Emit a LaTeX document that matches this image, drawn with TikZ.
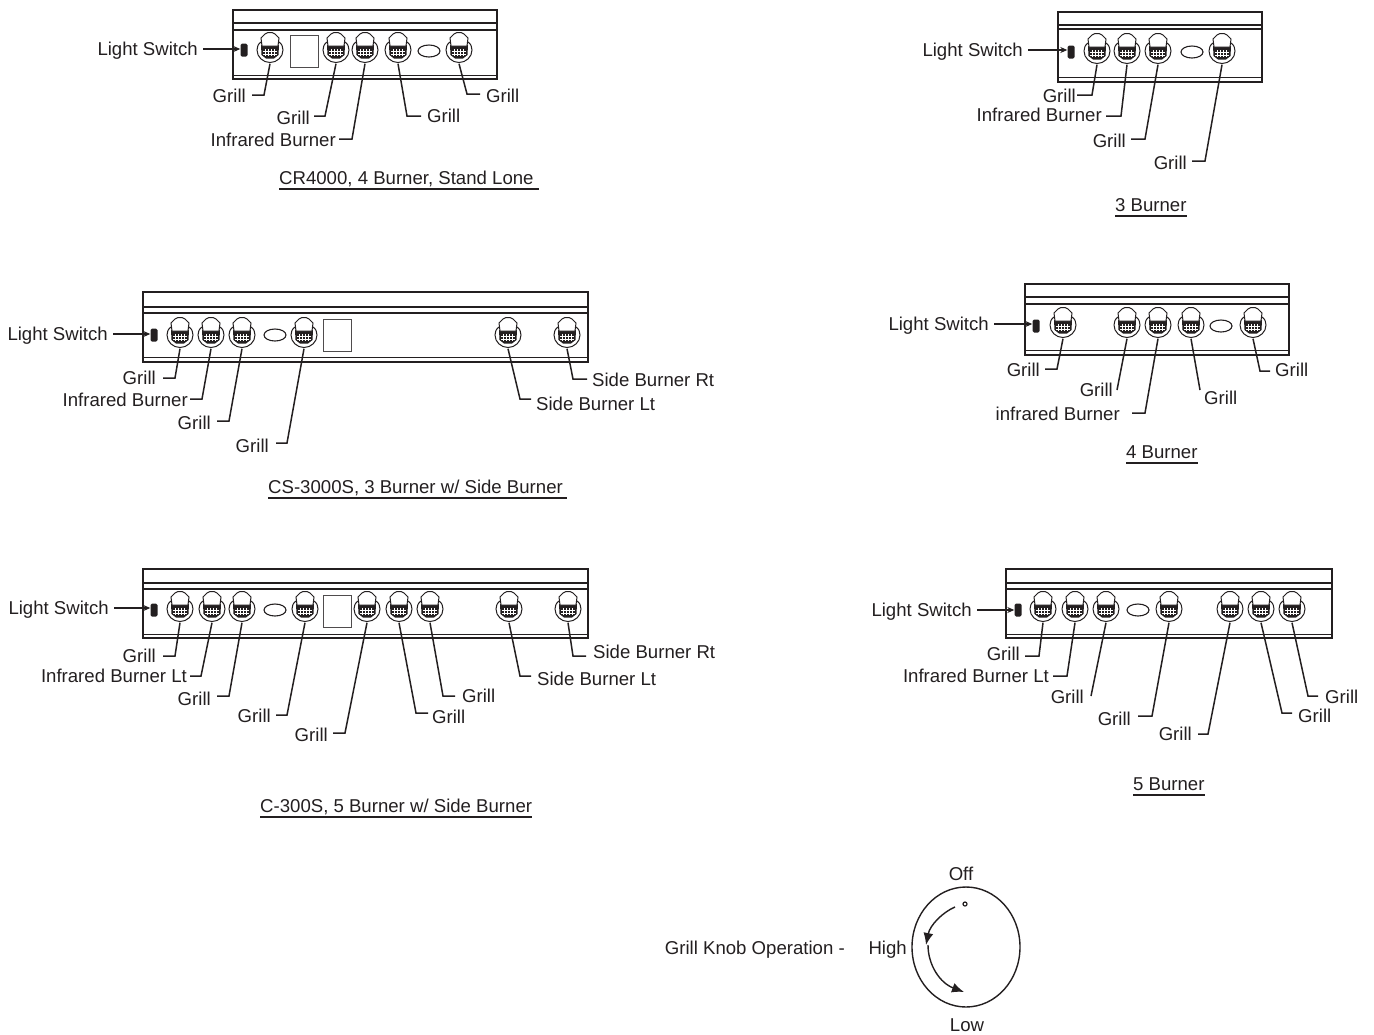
\documentclass[tikz,border=0pt]{standalone}
\usepackage{fontspec}
\setmainfont{Liberation Sans}
\usetikzlibrary{shapes.geometric, arrows.meta}
\definecolor{inkc}{HTML}{231F20}
\tikzstyle{lbl} = [inner sep=0pt, text height=13.5pt, text depth=0pt, font=\fontsize{18.6}{20}\selectfont, text=inkc]
\tikzstyle{lbll} = [lbl, anchor=east]
\tikzstyle{lblr} = [lbl, anchor=west]
\tikzstyle{capt} = [lbl, anchor=south west, text depth=4.5pt]
\tikzstyle{knobbase} = [circle, inner sep=0pt, minimum size=31pt]
\tikzstyle{leader} = [draw=inkc, line width=1.5pt, shorten >=6pt]
\tikzstyle{swarrow} = [draw=inkc, line width=1.5pt, shorten <=5pt, -{Stealth[length=7pt,width=6pt]}]
\tikzstyle{switchbox} = [rectangle, rounded corners=1.5pt, minimum width=7pt, minimum height=13pt, inner sep=0pt, fill=inkc]
\tikzstyle{ovalbox} = [ellipse, minimum width=22pt, minimum height=12pt, inner sep=0pt, draw=inkc, line width=1.1pt]
\tikzstyle{gaugebox} = [rectangle, minimum width=28pt, minimum height=32pt, inner sep=0pt, draw=inkc!80, line width=0.8pt]
\tikzstyle{rulel} = [draw=inkc, line width=1.4pt]
% front panel: x1 x2, then the five rails
\newcommand{\facia}[7]{
\draw [inkc, line width=1.7pt] (#1,#3) rectangle (#2,#7);
\draw [inkc, line width=1.7pt] (#1,#4) -- (#2,#4);
\draw [inkc, line width=1.7pt] (#1,#5) -- (#2,#5);
\draw [inkc, line width=0.8pt] (#1,#6) -- (#2,#6);
}
% one knob, named so that leaders can start from it
\newcommand{\knob}[3]{
\node (#1) [knobbase] at (#2,#3) {};
\begin{scope}[shift={(#2,#3)}, inkc, line width=1pt]
\draw [fill=white] (-9,-6) .. controls (-12,-4) and (-13,-1) .. (-13,2) .. controls (-13,9) and (-7,14.5) .. (0,14.5) .. controls (7,14.5) and (13,9) .. (13,2) .. controls (13,-1) and (12,-4) .. (9,-6);
\fill [inkc] (-9,-3) -- (9,-3) -- (8.5,7) -- (4,10.5) -- (-4,10.5) -- (-8.5,7) -- cycle;
\foreach \hx in {-5,-2,1,4} {\draw [white, line width=0.3pt] (\hx,1) -- (\hx,8);}
\foreach \hy in {3,6} {\draw [white, line width=0.3pt] (-7,\hy) -- (7,\hy);}
\draw [fill=white] (-8,-2) -- (-9,-10) -- (-5,-14) -- (-2,-15.5) -- (2,-15.5) -- (5,-14) -- (9,-10) -- (8,-2) -- cycle;
\end{scope}
}
\newcommand{\leader}[4][]{
\coordinate (bend) at (#3);
\draw [leader, #1] (#2.south) -- (bend) -- (bend -| #4);
}
\begin{document}
\begin{tikzpicture}[x=1pt, y=-1pt]
\useasboundingbox (0,0) rectangle (1374,1034);

% CR4000
\facia{233}{497}{10}{23}{30}{75}{79}
\node (sw1) [switchbox] at (244,50) {};
\knob{k11}{270}{48}
\knob{k12}{336}{48}
\knob{k13}{365}{48}
\knob{k14}{398}{48}
\knob{k15}{459}{48}
\node (gauge1) [gaugebox] at (304,51.5) {};
\node (oval1) [ovalbox] at (429,51) {};
\node (ls1) [lbll] at (198,49) {Light Switch};
\node (g11) [lbll] at (246,96) {Grill};
\node (g12) [lbll] at (310,118) {Grill};
\node (g13) [lbll] at (336,140) {Infrared Burner};
\node (g14) [lblr] at (427,116) {Grill};
\node (g15) [lblr] at (486,96) {Grill};
\node (cap1) [capt] at (279,189) {CR4000, 4 Burner, Stand Lone\hspace*{5pt}};
\draw [swarrow] (ls1.east) -- (ls1.east -| sw1.west);
\leader{k11}{264,95}{g11.east}
\leader[shorten >=4pt]{k12}{325,116}{g12.east}
\leader[shorten >=3pt]{k13}{352,139}{g13.east}
\leader{k14}{407,116}{g14.west}
\leader{k15}{467,94}{g15.west}
\draw [rulel] (cap1.south west) -- (cap1.south east);

% 3 Burner
\facia{1058}{1262}{12}{25}{29}{77}{82}
\node (sw2) [switchbox] at (1071,52) {};
\knob{k21}{1097}{49}
\knob{k22}{1127}{49}
\knob{k23}{1158}{49}
\knob{k24}{1222}{49}
\node (oval2) [ovalbox] at (1192,52) {};
\node (ls2) [lbll] at (1023,50) {Light Switch};
\node (g21) [lbll] at (1076,96) {Grill};
\node (g22) [lbll] at (1102,115) {Infrared Burner};
\node (g23) [lbll] at (1126,141) {Grill};
\node (g24) [lbll] at (1187,163) {Grill};
\node (cap2) [capt] at (1115,216) {3 Burner};
\draw [swarrow] (ls2.east) -- (ls2.east -| sw2.west);
\leader[shorten >=1pt]{k21}{1092,95}{g21.east}
\leader[shorten >=4pt]{k22}{1121,116}{g22.east}
\leader[shorten >=5pt]{k23}{1145,139}{g23.east}
\leader[shorten >=5pt]{k24}{1205,161}{g24.east}
\draw [rulel] (cap2.south west) -- (cap2.south east);

% CS-3000S
\facia{143}{588}{292}{307}{313}{357}{362}
\node (sw3) [switchbox] at (154,335) {};
\knob{k31}{180}{333}
\knob{k32}{211}{333}
\knob{k33}{242}{333}
\knob{k34}{304}{333}
\knob{k35}{508}{333}
\knob{k36}{567}{333}
\node (gauge3) [gaugebox] at (337,335) {};
\node (oval3) [ovalbox] at (275,335) {};
\node (ls3) [lbll] at (108,334) {Light Switch};
\node (g31) [lbll] at (156,378) {Grill};
\node (g32) [lbll] at (188,400) {Infrared Burner};
\node (g33) [lbll] at (211,423) {Grill};
\node (g34) [lbll] at (269,446) {Grill};
\node (g35) [lblr] at (592,380) {Side Burner Rt};
\node (g36) [lblr] at (536,404) {Side Burner Lt};
\node (cap3) [capt] at (268,498) {CS-3000S, 3 Burner w/ Side Burner\hspace*{4pt}};
\draw [swarrow] (ls3.east) -- (ls3.east -| sw3.west);
\leader[shorten >=7pt]{k31}{175,378}{g31.east}
\leader[shorten >=2pt]{k32}{202,399}{g32.east}
\leader[shorten >=6pt]{k33}{229,421}{g33.east}
\leader[shorten >=7pt]{k34}{287,443}{g34.east}
\leader[shorten >=5pt]{k36}{573,379}{g35.west}
\leader[shorten >=5pt]{k35}{520,399}{g36.west}
\draw [rulel] (cap3.south west) -- (cap3.south east);

% 4 Burner
\facia{1025}{1289}{284}{297}{304}{350}{355}
\node (sw4) [switchbox] at (1036,326) {};
\knob{k41}{1063}{323}
\knob{k42}{1127}{323}
\knob{k43}{1158}{323}
\knob{k44}{1191}{323}
\knob{k45}{1253}{323}
\node (oval4) [ovalbox] at (1221,326) {};
\node (ls4) [lbll] at (989,324) {Light Switch};
\node (g41) [lbll] at (1040,370) {Grill};
\node (g42) [lbll] at (1113,390) {Grill};
\node (g43) [lbll] at (1120,414) {infrared Burner};
\node (g44) [lblr] at (1204,398) {Grill};
\node (g45) [lblr] at (1275,370) {Grill};
\node (cap4) [capt] at (1126,463) {4 Burner};
\coordinate (e42) at (1117,390);
\coordinate (e44) at (1200,390);
\draw [swarrow] (ls4.east) -- (ls4.east -| sw4.west);
\leader[shorten >=5pt]{k41}{1057,369}{g41.east}
\draw [leader, shorten >=0pt] (k42.south) -- (e42);
\leader[shorten >=12pt]{k43}{1145,413}{g43.east}
\draw [leader, shorten >=0pt] (k44.south) -- (e44);
\leader[shorten >=5pt]{k45}{1260,371}{g45.west}
\draw [rulel] (cap4.south west) -- (cap4.south east);

% C-300S
\facia{143}{588}{569}{583}{589}{634}{638}
\node (sw5) [switchbox] at (154,610) {};
\knob{k51}{180}{607}
\knob{k52}{212}{607}
\knob{k53}{242}{607}
\knob{k54}{305}{607}
\knob{k55}{367}{607}
\knob{k56}{399}{607}
\knob{k57}{430}{607}
\knob{k58}{509}{607}
\knob{k59}{568}{607}
\node (gauge5) [gaugebox] at (337,611) {};
\node (oval5) [ovalbox] at (275,610) {};
\node (ls5) [lbll] at (109,608) {Light Switch};
\node (g51) [lbll] at (156,656) {Grill};
\node (g52) [lbll] at (187,676) {Infrared Burner Lt};
\node (g53) [lbll] at (211,699) {Grill};
\node (g54) [lbll] at (271,716) {Grill};
\node (g55) [lbll] at (328,735) {Grill};
\node (g56) [lblr] at (432,717) {Grill};
\node (g57) [lblr] at (462,696) {Grill};
\node (g58) [lblr] at (537,679) {Side Burner Lt};
\node (g59) [lblr] at (593,652) {Side Burner Rt};
\node (cap5) [capt] at (260,817) {C-300S, 5 Burner w/ Side Burner};
\draw [swarrow] (ls5.east) -- (ls5.east -| sw5.west);
\leader[shorten >=7pt]{k51}{175,656}{g51.east}
\leader[shorten >=3pt]{k52}{201,676}{g52.east}
\leader[shorten >=6pt]{k53}{229,696}{g53.east}
\leader[shorten >=5pt]{k54}{287,715}{g54.east}
\leader[shorten >=5pt]{k55}{345,733}{g55.east}
\leader[shorten >=4pt]{k56}{416,713}{g56.west}
\leader[shorten >=7pt]{k57}{443,696}{g57.west}
\leader[shorten >=6pt]{k58}{520,676}{g58.west}
\leader[shorten >=7pt]{k59}{573,656}{g59.west}
\draw [rulel] (cap5.south west) -- (cap5.south east);

% 5 Burner
\facia{1006}{1332}{569}{583}{589}{634}{638}
\node (sw6) [switchbox] at (1018,610) {};
\knob{k61}{1043}{607}
\knob{k62}{1075}{607}
\knob{k63}{1106}{607}
\knob{k64}{1169}{607}
\knob{k65}{1230}{607}
\knob{k66}{1261}{607}
\knob{k67}{1292}{607}
\node (oval6) [ovalbox] at (1138,610) {};
\node (ls6) [lbll] at (972,610) {Light Switch};
\node (g61) [lbll] at (1020,654) {Grill};
\node (g62) [lbll] at (1049,676) {Infrared Burner Lt};
\node (g63) [lbll] at (1084,697) {Grill};
\node (g64) [lbll] at (1131,719) {Grill};
\node (g65) [lbll] at (1192,734) {Grill};
\node (g66) [lblr] at (1298,716) {Grill};
\node (g67) [lblr] at (1325,697) {Grill};
\node (cap6) [capt] at (1133,795) {5 Burner};
\coordinate (e63) at (1091,696);
\draw [swarrow] (ls6.east) -- (ls6.east -| sw6.west);
\leader[shorten >=5pt]{k61}{1039,656}{g61.east}
\leader[shorten >=4pt]{k62}{1067,676}{g62.east}
\draw [leader, shorten >=0pt] (k63.south) -- (e63);
\leader[shorten >=7pt]{k64}{1152,716}{g64.east}
\leader[shorten >=6pt]{k65}{1208,734}{g65.east}
\leader[shorten >=6pt]{k66}{1282,713}{g66.west}
\leader[shorten >=7pt]{k67}{1308,696}{g67.west}
\draw [rulel] (cap6.south west) -- (cap6.south east);

% knob operation
\node (dial) [ellipse, minimum width=108pt, minimum height=120pt, inner sep=0pt, draw=inkc, line width=1.4pt] at (966,947) {};
\node (dot) [circle, minimum size=4pt, inner sep=0pt, draw=inkc, line width=1.2pt] at (965,904) {};
\node (off) [lbl] at (961,874) {Off};
\node (high) [lbll] at (907,948) {High};
\node (low) [lbl] at (967,1025) {Low};
\node (oper) [lbll] at (845,948) {Grill Knob Operation -};
\coordinate (a1) at (955,907);
\coordinate (a2) at (926,945);
\coordinate (a3) at (928,945);
\coordinate (a4) at (964,992);
\draw [draw=inkc, line width=1.4pt, -{Latex[length=12pt,width=10pt]}] (a1) .. controls (943,912) and (930,925) .. (a2);
\draw [draw=inkc, line width=1.4pt, -{Latex[length=12pt,width=10pt]}] (a3) .. controls (928,965) and (940,983) .. (a4);
\end{tikzpicture}
\end{document}
